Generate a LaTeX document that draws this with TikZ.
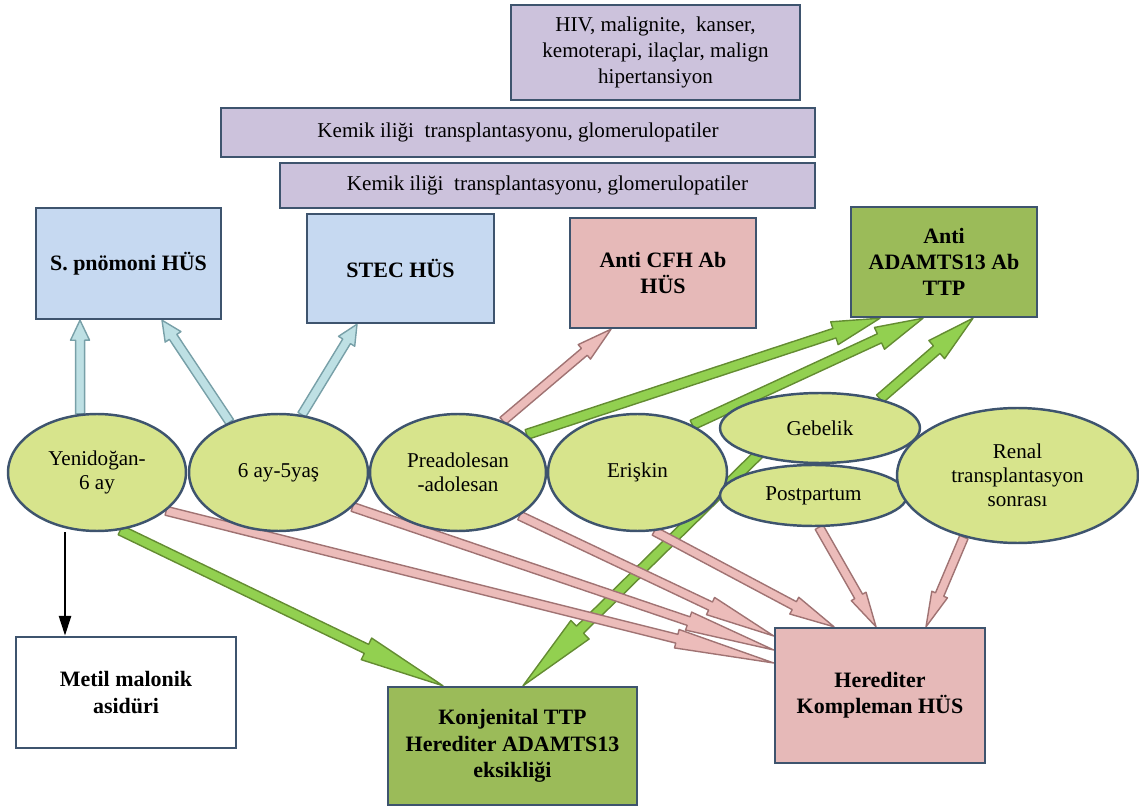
\documentclass[tikz,border=0pt]{standalone}
\usepackage{fontspec}
\setmainfont{Liberation Serif}
\usepackage{xcolor}
\usepackage{tikz}
\usetikzlibrary{shapes,arrows.meta,positioning,calc,backgrounds}

\definecolor{kenar}{RGB}{62,84,110}
\definecolor{mor}{RGB}{204,194,220}
\definecolor{mavi}{RGB}{198,217,241}
\definecolor{pembe}{RGB}{230,185,184}
\definecolor{yesil}{RGB}{155,187,89}
\definecolor{sari}{RGB}{215,228,140}
\definecolor{okmavi}{RGB}{190,224,228}
\definecolor{okmavikenar}{RGB}{120,160,168}
\definecolor{okpembe}{RGB}{236,188,186}
\definecolor{okpembekenar}{RGB}{160,115,115}
\definecolor{okyesil}{RGB}{146,208,80}
\definecolor{okyesilkenar}{RGB}{100,140,50}

% blok ok: stil, govde yari genislik, bas yari genislik, bas boyu, baslangic, bitis
\newcommand{\blokok}[6]{
    \coordinate (ok-a) at (#5);
    \coordinate (ok-b) at (#6);
    \coordinate (ok-h) at ($(ok-b)!#4!(ok-a)$);
    \draw[#1] ($(ok-a)!#2!90:(ok-b)$) -- ($(ok-h)!#2!90:(ok-b)$)
        -- ($(ok-h)!#3!90:(ok-b)$) -- (ok-b)
        -- ($(ok-h)!#3!-90:(ok-b)$) -- ($(ok-h)!#2!-90:(ok-b)$)
        -- ($(ok-a)!#2!-90:(ok-b)$) -- cycle;
}

\tikzset{
    kutu/.style={draw=kenar, line width=1.4pt, rectangle, align=center, inner sep=2pt},
    morkutu/.style={kutu, fill=mor, font=\fontsize{12}{15}\selectfont},
    kalin/.style={kutu, font=\bfseries\fontsize{12.5}{15}\selectfont},
    yas/.style={ellipse, draw=kenar, line width=1.4pt, fill=sari, align=center,
        inner sep=0pt, font=\fontsize{12}{13.5}\selectfont},
    maviok/.style={draw=okmavikenar, fill=okmavi, line width=0.8pt, line join=round},
    pembeok/.style={draw=okpembekenar, fill=okpembe, line width=0.8pt, line join=round},
    yesilok/.style={draw=okyesilkenar, fill=okyesil, line width=0.8pt, line join=round}
}

\begin{document}
\begin{tikzpicture}[x=0.02cm, y=-0.02cm]

    \useasboundingbox (0,0) rectangle (1139,810);

    % ust kutular
    \node[morkutu, minimum width=5.78cm, minimum height=1.9cm] (hiv) at (655.5,52.5)
        {HIV, malignite,\ \ kanser,\\ kemoterapi, ilaçlar, malign\\ hipertansiyon};
    \node[morkutu, minimum width=11.88cm, minimum height=0.98cm] (kemik1) at (518,132.5)
        {Kemik iliği\ \ transplantasyonu, glomerulopatiler};
    \node[morkutu, minimum width=10.7cm, minimum height=0.9cm] (kemik2) at (547.5,185.5)
        {Kemik iliği\ \ transplantasyonu, glomerulopatiler};

    \node[kalin, fill=mavi, minimum width=3.7cm, minimum height=2.22cm] (spn) at (128.5,263.5)
        {S. pnömoni HÜS};
    \node[kalin, fill=mavi, minimum width=3.74cm, minimum height=2.18cm] (stec) at (400.5,268.5)
        {STEC HÜS};
    \node[kalin, fill=pembe, minimum width=3.72cm, minimum height=2.2cm] (cfh) at (663,273)
        {Anti CFH Ab\\ HÜS};
    \node[kalin, fill=yesil, minimum width=3.72cm, minimum height=2.2cm] (adamts) at (944,262)
        {Anti\\ ADAMTS13 Ab\\ TTP};

    % yas gruplari
    \node[yas, minimum width=3.56cm, minimum height=2.34cm] (yeni) at (97,472.5)
        {Yenidoğan-\\ 6 ay};
    \node[yas, minimum width=3.58cm, minimum height=2.34cm] (bebek) at (278.5,472.5)
        {6 ay-5yaş};
    \node[yas, minimum width=3.52cm, minimum height=2.34cm] (pread) at (458,472.5)
        {Preadolesan\\ -adolesan};
    \node[yas, minimum width=3.58cm, minimum height=2.34cm] (eriskin) at (637.5,472.5)
        {Erişkin};
    \node[yas, minimum width=4.0cm, minimum height=1.4cm] (gebelik) at (820,428)
        {Gebelik};
    \node[yas, minimum width=3.74cm, minimum height=1.22cm] (postpartum) at (813.5,495.5)
        {Postpartum};
    \node[yas, minimum width=4.82cm, minimum height=2.7cm] (renal) at (1017.5,475.5)
        {Renal\\ transplantasyon\\ sonrası};

    % alt kutular
    \node[kalin, fill=white, minimum width=4.4cm, minimum height=2.22cm] (metil) at (126,692.5)
        {Metil malonik\\ asidüri};
    \node[kalin, fill=yesil, minimum width=4.98cm, minimum height=2.36cm] (konj) at (512.5,746)
        {Konjenital TTP\\ Herediter ADAMTS13\\ eksikliği};
    \node[kalin, fill=pembe, minimum width=4.2cm, minimum height=2.7cm] (hered) at (880,695.5)
        {Herediter\\ Kompleman HÜS};

    \begin{pgfonlayer}{background}
        \blokok{maviok}{0.09cm}{0.19cm}{0.4cm}{yeni.106}{[xshift=-0.97cm]spn.south}
        \blokok{maviok}{0.09cm}{0.19cm}{0.4cm}{bebek.134}{[xshift=0.67cm]spn.south}
        \blokok{maviok}{0.09cm}{0.19cm}{0.4cm}{bebek.68}{[xshift=-0.87cm]stec.south}

        \blokok{pembeok}{0.09cm}{0.19cm}{0.7cm}{pread.49}{[xshift=-1.04cm]cfh.south}

        \blokok{yesilok}{0.1cm}{0.24cm}{0.96cm}{pread.29}{[xshift=-1.28cm]adamts.south}
        \blokok{yesilok}{0.1cm}{0.24cm}{0.96cm}{eriskin.41}{[xshift=-0.42cm]adamts.south}
        \blokok{yesilok}{0.1cm}{0.24cm}{0.96cm}{gebelik.26}{[xshift=0.58cm]adamts.south}
        \blokok{yesilok}{0.1cm}{0.26cm}{1.6cm}{[xshift=-0.94cm,yshift=-0.24cm]gebelik.center}{[xshift=0.21cm]konj.north}
        \blokok{yesilok}{0.1cm}{0.24cm}{1.7cm}{yeni.-68}{[xshift=-1.39cm]konj.north}

        \blokok{pembeok}{0.09cm}{0.19cm}{2.0cm}{yeni.-29}{[yshift=0.65cm]hered.west}
        \blokok{pembeok}{0.09cm}{0.19cm}{1.8cm}{bebek.-25}{[yshift=0.91cm]hered.west}
        \blokok{pembeok}{0.09cm}{0.19cm}{1.4cm}{pread.-35}{[yshift=1.19cm]hered.west}
        \blokok{pembeok}{0.09cm}{0.19cm}{0.9cm}{eriskin.-74}{[xshift=-0.92cm]hered.north}
        \blokok{pembeok}{0.09cm}{0.17cm}{0.7cm}{postpartum.-80}{[xshift=-0.08cm]hered.north}
        \blokok{pembeok}{0.09cm}{0.17cm}{0.7cm}{renal.-131}{[xshift=0.92cm]hered.north}
    \end{pgfonlayer}

    \coordinate (metilust) at ([xshift=-1.22cm]metil.north);
    \draw[line width=1.5pt, -{Triangle[length=0.4cm,width=0.24cm]}] (metilust |- yeni.south) -- (metilust);

\end{tikzpicture}
\end{document}
